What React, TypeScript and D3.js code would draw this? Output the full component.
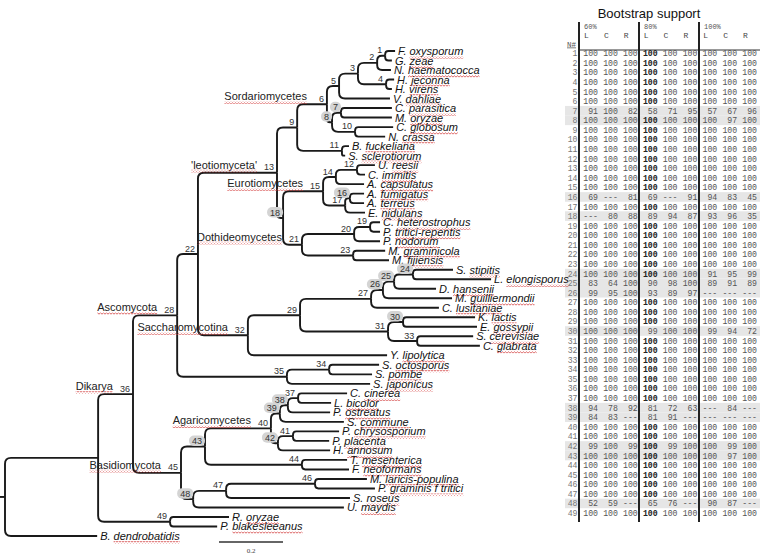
import React, { useMemo } from "react";
import * as d3 from "d3";

// ---------- Tree data ----------
const taxa = [
  "F. oxysporum", "G. zeae", "N. haematococca", "H. jeconna", "H. virens", "V. dahliae",
  "C. parasitica", "M. oryzae", "C. globosum", "N. crassa", "B. fuckeliana", "S. sclerotiorum",
  "U. reesii", "C. immitis", "A. capsulatus", "A. fumigatus", "A. terreus", "E. nidulans",
  "C. heterostrophus", "P. tritici-repentis", "P. nodorum", "M. graminicola", "M. fijiensis",
  "S. stipitis", "L. elongisporus", "D. hansenii", "M. guilliermondii", "C. lusitaniae",
  "K. lactis", "E. gossypii", "S. cerevisiae", "C. glabrata", "Y. lipolytica",
  "S. octosporus", "S. pombe", "S. japonicus", "C. cinerea", "L. bicolor", "P. ostreatus",
  "S. commune", "P. chrysosporium", "P. placenta", "H. annosum", "T. mesenterica",
  "F. neoformans", "M. laricis-populina", "P. graminis f tritici", "S. roseus", "U. maydis",
  "R. oryzae", "P. blakesleeanus", "B. dendrobatidis",
];

// distance from root (substitutions per site) of each tip
const tipDepth = [
  1.219, 1.209, 1.206, 1.216, 1.209, 1.203,
  1.209, 1.209, 1.213, 1.188, 1.075, 1.063,
  1.156, 1.125, 1.122, 1.122, 1.122, 1.125,
  1.172, 1.172, 1.172, 1.188, 1.2,
  1.4, 1.519, 1.347, 1.397, 1.356,
  1.469, 1.475, 1.463, 1.484, 1.194,
  1.169, 1.147, 1.141, 1.069, 1.019, 1.016,
  1.059, 1.044, 1.013, 1.016, 1.069,
  1.075, 1.131, 1.156, 1.078, 1.059,
  0.7, 0.663, 0.288,
];

// internal nodes: [id, depth, child A, child B] (children listed before parents)
const nodes: [number | string, number, number | string, number | string][] = [
  [1, 1.188, "F. oxysporum", "G. zeae"],
  [2, 1.163, 1, "N. haematococca"],
  [4, 1.191, "H. jeconna", "H. virens"],
  [3, 1.103, 2, 4],
  [5, 1.044, 3, "V. dahliae"],
  [7, 1.05, "C. parasitica", "M. oryzae"],
  [10, 1.094, "C. globosum", "N. crassa"],
  [8, 1.022, 7, 10],
  [6, 1.006, 5, 8],
  [11, 1.053, "B. fuckeliana", "S. sclerotiorum"],
  [9, 0.913, 6, 11],
  [12, 1.1, "U. reesii", "C. immitis"],
  [14, 1.034, 12, "A. capsulatus"],
  [16, 1.078, "A. fumigatus", "A. terreus"],
  [17, 1.063, 16, "E. nidulans"],
  [15, 0.994, 14, 17],
  [19, 1.141, "C. heterostrophus", "P. tritici-repentis"],
  [20, 1.091, 19, "P. nodorum"],
  [23, 1.088, "M. graminicola", "M. fijiensis"],
  [21, 0.928, 20, 23],
  [18, 0.869, 15, 21],
  [13, 0.85, 9, 18],
  [24, 1.275, "S. stipitis", "L. elongisporus"],
  [25, 1.216, 24, "D. hansenii"],
  [26, 1.181, 25, "M. guilliermondii"],
  [27, 1.144, 26, "C. lusitaniae"],
  [30, 1.244, "K. lactis", "E. gossypii"],
  [33, 1.288, "S. cerevisiae", "C. glabrata"],
  [31, 1.197, 30, 33],
  [29, 0.922, 27, 31],
  [32, 0.759, 29, "Y. lipolytica"],
  [22, 0.603, 13, 32],
  [34, 1.013, "S. octosporus", "S. pombe"],
  [35, 0.881, 34, "S. japonicus"],
  [28, 0.538, 22, 35],
  [37, 0.916, "C. cinerea", "L. bicolor"],
  [38, 0.884, 37, "P. ostreatus"],
  [39, 0.859, 38, "S. commune"],
  [41, 0.9, "P. chrysosporium", "P. placenta"],
  [42, 0.853, 41, "H. annosum"],
  [40, 0.831, 39, 42],
  [44, 0.928, "T. mesenterica", "F. neoformans"],
  [43, 0.625, 40, 44],
  [46, 0.969, "M. laricis-populina", "P. graminis f tritici"],
  [47, 0.691, 46, "S. roseus"],
  [48, 0.588, 47, "U. maydis"],
  [45, 0.55, 43, 48],
  [36, 0.4, 28, 45],
  [49, 0.516, "R. oryzae", "P. blakesleeanus"],
  ["A", 0.291, 36, 49],
  ["root", 0, "A", "B. dendrobatidis"],
];

const cladeNames = [
  "Sordariomycetes", "'leotiomyceta'", "Eurotiomycetes", "Dothideomycetes",
  "Saccharomycotina", "Ascomycota", "Dikarya", "Agaricomycetes", "Basidiomycota",
];
const cladeNodes = [6, 13, 15, 21, 32, 28, 36, 40, 45];

const highlighted = [7, 8, 16, 18, 24, 25, 26, 30, 38, 39, 42, 43, 48];

const scaleBarValue = 0.2;

// ---------- Table data ----------
const tableTitle = "Bootstrap support";
const groupLabels = ["60%", "80%", "100%"];
const colLabels = ["L", "C", "R"];

type V = number | null;
const support60: V[][] = [
  [100, 100, 100], [100, 100, 100], [100, 100, 100], [100, 100, 100], [100, 100, 100],
  [100, 100, 100], [91, 100, 82], [100, 100, 100], [100, 100, 100], [100, 100, 100],
  [100, 100, 100], [100, 100, 100], [100, 100, 100], [100, 100, 100], [100, 100, 100],
  [69, null, 81], [100, 100, 100], [null, 80, 88], [100, 100, 100], [100, 100, 100],
  [100, 100, 100], [100, 100, 100], [100, 100, 100], [100, 100, 100], [83, 64, 100],
  [99, 95, 100], [100, 100, 100], [100, 100, 100], [100, 100, 100], [100, 100, 100],
  [100, 100, 100], [100, 100, 100], [100, 100, 100], [100, 100, 100], [100, 100, 100],
  [100, 100, 100], [100, 100, 100], [94, 78, 92], [84, 83, null], [100, 100, 100],
  [100, 100, 100], [99, 100, 99], [100, 100, 100], [100, 100, 100], [100, 100, 100],
  [100, 100, 100], [100, 100, 100], [52, 59, null], [100, 100, 100],
];
const support80: V[][] = [
  [100, 100, 100], [100, 100, 100], [100, 100, 100], [100, 100, 100], [100, 100, 100],
  [100, 100, 100], [58, 71, 95], [100, 100, 100], [100, 100, 100], [100, 100, 100],
  [100, 100, 100], [100, 100, 100], [100, 100, 100], [100, 100, 100], [100, 100, 100],
  [69, null, 91], [100, 100, 100], [89, 94, 87], [100, 100, 100], [100, 100, 100],
  [100, 100, 100], [100, 100, 100], [100, 100, 100], [100, 100, 100], [90, 98, 100],
  [93, 89, 97], [100, 100, 100], [100, 100, 100], [100, 100, 100], [99, 100, 100],
  [100, 100, 100], [100, 100, 100], [100, 100, 100], [100, 100, 100], [100, 100, 100],
  [100, 100, 100], [100, 100, 100], [81, 72, 63], [81, 91, null], [100, 100, 100],
  [100, 100, 100], [100, 99, 100], [100, 100, 100], [100, 100, 100], [100, 100, 100],
  [100, 100, 100], [100, 100, 100], [65, 76, null], [100, 100, 100],
];
const support100: V[][] = [
  [100, 100, 100], [100, 100, 100], [100, 100, 100], [100, 100, 100], [100, 100, 100],
  [100, 100, 100], [57, 67, 96], [100, 97, 100], [100, 100, 100], [100, 100, 100],
  [100, 100, 100], [100, 100, 100], [100, 100, 100], [100, 100, 100], [100, 100, 100],
  [94, 83, 45], [100, 100, 100], [93, 96, 35], [100, 100, 100], [100, 100, 100],
  [100, 100, 100], [100, 100, 100], [100, 100, 100], [91, 95, 99], [89, 91, 89],
  [null, null, null], [100, 100, 100], [100, 100, 100], [100, 100, 100], [99, 94, 72],
  [100, 100, 100], [100, 100, 100], [100, 100, 100], [100, 100, 100], [100, 100, 100],
  [100, 100, 100], [100, 100, 100], [null, 84, null], [null, null, null], [100, 100, 100],
  [100, 100, 100], [100, 99, 100], [100, 97, 100], [100, 100, 100], [100, 100, 100],
  [100, 100, 100], [100, 100, 100], [90, 87, null], [100, 100, 100],
];

// ---------- helpers ----------
const SANS = "'Liberation Sans', Arial, sans-serif";
const MONO = "'Liberation Mono', 'Courier New', monospace";

let _ctx: CanvasRenderingContext2D | null = null;
function measure(text: string, font: string): number {
  if (!_ctx) _ctx = document.createElement("canvas").getContext("2d");
  if (!_ctx) return text.length * 6;
  _ctx.font = font;
  return _ctx.measureText(text).width;
}

function elbow(p: { x: number; y: number }, c: { x: number; y: number }) {
  const dy = c.y - p.y;
  const s = dy >= 0 ? 1 : -1;
  const r = Math.max(0, Math.min(6, Math.abs(dy) * 0.7, (c.x - p.x) * 0.6));
  return `M${p.x},${p.y}V${c.y - s * r}Q${p.x},${c.y} ${p.x + r},${c.y}H${c.x}`;
}

export default function App() {
  const W = 762, H = 557;
  const xScale = d3.scaleLinear().domain([0, 2.35]).range([5, 757]);
  const yScale = d3.scaleLinear().domain([0, taxa.length - 1]).range([51, 536]);

  const layout = useMemo(() => {
    const pos = new Map<string, { x: number; y: number }>();
    taxa.forEach((t, i) => pos.set(t, { x: xScale(tipDepth[i]), y: yScale(i) }));
    const paths: string[] = [];
    nodes.forEach(([id, depth, a, b]) => {
      const pa = pos.get(String(a))!;
      const pb = pos.get(String(b))!;
      const p = { x: xScale(depth), y: (pa.y + pb.y) / 2 };
      pos.set(String(id), p);
      paths.push(elbow(p, pa), elbow(p, pb));
    });
    return { pos, paths };
  }, []);

  const { pos, paths } = layout;
  const root = pos.get("root")!;

  // table scales
  const colX = d3.scaleLinear().domain([0, 8]).range([598, 757]);
  const rowY = d3.scaleLinear().domain([1, 49]).range([53.3, 513]);
  const groupLineX = [579, 639, 699];
  const groups = [support60, support80, support100];

  const taxFont = `italic 11px ${SANS}`;
  const cladeFont = `11px ${SANS}`;
  const nodeFont = `9px ${SANS}`;

  return (
    <svg width={W} height={H} style={{ position: "absolute", left: 0, top: 0, background: "#fff" }}
      fontFamily={SANS}>
      <defs>
        <pattern id="squiggle" width="3" height="3" patternUnits="userSpaceOnUse">
          <path d="M0,2.2 L1.5,0.8 L3,2.2" fill="none" stroke="#d23a3a" strokeWidth="0.8" />
        </pattern>
      </defs>

      {/* table row shading */}
      {highlighted.map((r) => (
        <rect key={"hl" + r} x={565} y={rowY(r) - 4.8} width={195} height={9.6} fill="#e6e6e6" />
      ))}

      {/* branches */}
      <g fill="none" stroke="#1a1a1a" strokeWidth={1.9} strokeLinejoin="round">
        {paths.map((d, i) => <path key={i} d={d} />)}
        <path d={`M${xScale(-0.016)},${root.y}H${root.x}`} />
      </g>

      {/* taxon labels */}
      {taxa.map((t, i) => {
        const p = pos.get(t)!;
        const x = p.x + 3;
        const base = p.y + 4;
        const sp = t.indexOf(" ");
        const pre = measure(t.slice(0, sp + 1), taxFont);
        const full = measure(t, taxFont);
        return (
          <g key={t}>
            <text x={x} y={base} fontSize={11} fontStyle="italic" fill="#111">{t}</text>
            <rect x={x + pre} y={base + 1} width={full - pre} height={2.6} fill="url(#squiggle)" />
          </g>
        );
      })}

      {/* node labels */}
      {nodes.filter((n) => typeof n[0] === "number").map(([id]) => {
        const p = pos.get(String(id))!;
        const s = String(id);
        const w = measure(s, nodeFont);
        const xe = p.x - 3;
        const base = p.y - 2.5;
        const hl = highlighted.includes(id as number);
        return (
          <g key={"n" + s}>
            {hl && <rect x={xe - w - 3} y={base - 8.5} width={w + 6} height={10.5} rx={5} fill="#d4d4d4" />}
            <text x={xe} y={base} fontSize={9} textAnchor="end" fill="#333">{s}</text>
          </g>
        );
      })}

      {/* clade labels */}
      {cladeNames.map((name, i) => {
        const p = pos.get(String(cladeNodes[i]))!;
        const w = measure(name, cladeFont);
        const xe = p.x - 20;
        const base = p.y - 4;
        return (
          <g key={name}>
            <text x={xe} y={base} fontSize={11} textAnchor="end" fill="#222">{name}</text>
            <rect x={xe - w} y={base + 1} width={w} height={2.6} fill="url(#squiggle)" />
          </g>
        );
      })}

      {/* scale bar */}
      <line x1={219} x2={219 + xScale(scaleBarValue) - xScale(0)} y1={542} y2={542} stroke="#333" strokeWidth={1.3} />
      <text x={219 + (xScale(scaleBarValue) - xScale(0)) / 2} y={553} fontSize={7} textAnchor="middle"
        fontFamily="'Liberation Serif', serif" fill="#444">{scaleBarValue}</text>

      {/* table */}
      <text x={649} y={17.5} fontSize={13} textAnchor="middle" fill="#111">{tableTitle}</text>
      {groupLabels.map((g, gi) => (
        <text key={g} x={groupLineX[gi] + 5} y={28.5} fontSize={7} fontFamily={MONO} fill="#555">{g}</text>
      ))}
      {groupLabels.map((g, gi) =>
        colLabels.map((c, ci) => (
          <text key={g + c} x={colX(gi * 3 + ci) - 14} y={38} fontSize={8} fontFamily={MONO} fill="#444">{c}</text>
        ))
      )}
      <text x={567} y={46.5} fontSize={7.5} fontFamily={MONO} fill="#555" textDecoration="underline">N#</text>
      <line x1={579} x2={760} y1={50} y2={50} stroke="#333" strokeWidth={1} />
      {groupLineX.map((x) => (
        <line key={"gl" + x} x1={x} x2={x} y1={22} y2={522} stroke="#222" strokeWidth={2} />
      ))}
      {support60.map((_, ri) => {
        const r = ri + 1;
        const base = rowY(r) + 3;
        return (
          <g key={"row" + r} fontFamily={MONO} fontSize={8.2}>
            <text x={577.5} y={base} textAnchor="end" fill="#777">{r}</text>
            {groups.map((grp, gi) =>
              grp[ri].map((v, ci) => {
                const bold = gi === 1 && ci === 0 && v === 100;
                return (
                  <text key={gi + "-" + ci} x={colX(gi * 3 + ci)} y={base} textAnchor="end"
                    fill={bold ? "#222" : "#555"} fontWeight={bold ? "bold" : "normal"}>
                    {v === null ? "---" : v}
                  </text>
                );
              })
            )}
          </g>
        );
      })}
    </svg>
  );
}
